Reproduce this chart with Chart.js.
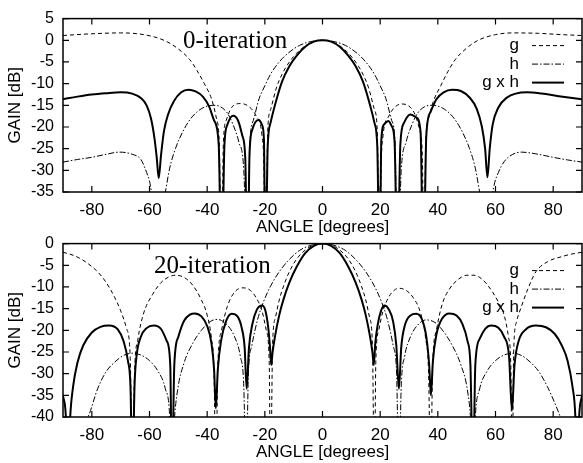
<!DOCTYPE html>
<html>
<head>
<meta charset="utf-8">
<script src="https://cdn.jsdelivr.net/npm/chart.js"></script>
<style>
  body { margin: 0; background: #fff; }
  #wrap { position: relative; width: 583px; height: 463px; }
  canvas { position: absolute; left: 0; }
</style>
</head>
<body>
<div id="wrap">
  <canvas id="topChart" width="583" height="238" style="top:0px"></canvas>
  <canvas id="bottomChart" width="583" height="238" style="top:225px"></canvas>
</div>
<script>
// ticks
const xTicks = [-80, -60, -40, -20, 0, 20, 40, 60, 80];
const topYTicks = [5, 0, -5, -10, -15, -20, -25, -30, -35];
const bottomYTicks = [0, -5, -10, -15, -20, -25, -30, -35, -40];

// 0-iteration
const topAngleG = [-90, -80, -70, -62, -55, -50, -46, -43.5, -41, -38.5, -36.8, -35.8, -35, -34.4, -33.4, -31.5, -28.5, -25.5, -23, -21, -20.3, -19.8, -19, -18, -16, -14, -12, -9, -6, -3, 0, 3, 6, 9, 12, 14, 16, 18, 19, 19.8, 20.3, 21, 23, 25.5, 27.5, 30, 32, 33.8, 34.6, 35.2, 35.8, 36.8, 38.5, 41, 43.5, 46, 50, 54, 60, 66, 75, 83, 90];
const topGainG = [1.1, 1.5, 1.7, 1.3, 0, -2, -4.5, -7, -10, -13.5, -18, -24, -55, -24, -18.5, -15.5, -14.6, -15.3, -17.5, -22, -30, -55, -21, -16, -11, -7.8, -5.5, -3, -1.3, -0.3, 0, -0.3, -1.3, -3, -5.5, -7.8, -11, -16, -21, -55, -30, -22, -17.5, -15.2, -14.7, -15.2, -17, -21, -26, -55, -24, -18, -14, -10.5, -7.2, -4.5, -1.8, 0, 1.3, 1.7, 1.6, 1.3, 1.1];

const topAngleH = [-90, -85, -80, -75, -70.5, -66, -63, -61, -60, -59.3, -58.3, -57, -55.7, -54.5, -53, -51, -48, -45, -41.5, -38, -35.5, -33, -31, -29, -27.3, -26, -25.2, -24, -22, -20, -18, -15, -12, -8, -4, 0, 4, 8, 12, 15, 18, 20, 22, 24, 25.2, 26, 27.3, 29, 31, 33, 35.5, 38, 41.5, 45, 48, 51, 53, 54.5, 55.7, 57, 58.3, 59.5, 61, 63, 66, 69, 74, 80, 85, 90];
const topGainH = [-28.1, -27.5, -27, -26.3, -25.8, -26.3, -27.5, -30.5, -32.5, -35, -39, -55, -39, -35, -29.5, -25, -20.5, -17.5, -15.6, -15, -15.3, -16.8, -19.5, -23.5, -30, -55, -24, -18.5, -13.5, -10.5, -7.8, -5, -3, -1.2, -0.3, 0, -0.3, -1.2, -3, -5, -7.8, -10.5, -13.5, -18.5, -24, -55, -30, -23.5, -19.5, -16.8, -15.3, -15, -15.6, -17.5, -20.5, -25, -29.5, -35, -39, -55, -39, -33.5, -30.5, -28, -26.3, -25.8, -26.2, -27, -27.6, -28.1];

const topAngleGH = [-90, -85, -80, -75, -70, -66, -63, -61, -59.5, -58.3, -57.5, -56.8, -56, -55, -53.5, -51.5, -49, -46.5, -44, -41.5, -39.3, -37.6, -36, -35, -34, -33, -31, -29.3, -27.8, -26.8, -26, -25.3, -24.3, -23.2, -22, -21, -20.3, -19.8, -19, -18, -16, -14, -11.5, -9, -6, -3, 0, 3, 6, 9, 11.5, 14, 16, 18, 19, 19.8, 20.4, 21.5, 22.8, 24, 25, 26, 27, 28.3, 30.5, 32.5, 34, 35, 36, 37.5, 39.5, 42, 45, 48, 51, 53.5, 55.3, 56.4, 57.2, 58, 59, 61, 64, 67, 71, 76, 82, 90];
const topGainGH = [-13.6, -13, -12.5, -12.2, -12, -12.3, -13.3, -15, -18, -22.5, -27, -31.8, -26.5, -21, -17, -14, -12, -11.4, -11.8, -13, -15.3, -18.5, -24, -55, -24, -19.5, -17.4, -18.5, -22, -27, -55, -26, -20.5, -18.8, -18.4, -19.5, -23, -55, -24.5, -19, -13.8, -9.5, -6, -3.6, -1.5, -0.3, 0, -0.3, -1.5, -3.6, -6, -9.5, -13.8, -19, -24.5, -55, -23, -19.3, -18.6, -19.8, -23.5, -55, -24, -19, -17.1, -17.8, -21, -55, -22, -16.5, -13.6, -12, -11.4, -11.7, -13.2, -15.8, -20, -25, -31.6, -25, -19.5, -15.5, -13.2, -12.3, -12, -12.3, -12.9, -13.6];

// 20-iteration
const bottomAngleG = [-90, -86, -82, -78, -75, -72, -70, -68, -66.7, -65.9, -65.2, -64, -62, -59, -56, -53, -51, -48, -45, -42, -40, -38.5, -37.6, -37, -36.3, -35, -33, -30.5, -27.5, -25, -23, -21, -19.5, -18.5, -18, -17.3, -16.3, -15, -13.5, -11.5, -9, -6, -3, 0, 3, 6, 9, 11.5, 13.5, 15, 16.3, 17.3, 18, 18.5, 19.5, 21, 23, 25, 26.5, 29, 31.5, 34, 35.8, 36.8, 37.5, 38.2, 39.5, 41.5, 44, 47, 50, 52.5, 55.5, 58.5, 61, 63, 64.5, 65.3, 65.8, 66.3, 67.3, 69, 71.2, 74, 78, 83, 86.5, 90];
const bottomGainG = [-2, -2.8, -4.3, -6.5, -9, -12.5, -15.5, -19.5, -26, -55, -30, -22, -16, -11.8, -9, -7.6, -7.3, -7.8, -9.6, -13, -16.5, -22, -30, -55, -28, -20, -14.5, -11.2, -10.2, -10.8, -12.5, -15.5, -20, -27, -55, -23, -17, -13, -9.8, -6.5, -3.6, -1.5, -0.3, 0, -0.3, -1.5, -3.6, -6.5, -9.8, -13, -17, -23, -55, -27, -20, -15.5, -12.3, -10.7, -10.3, -10.8, -12.5, -16, -22, -30, -55, -28, -20, -14, -10.5, -8.3, -7.3, -7.3, -8.3, -10.7, -13.5, -16.5, -21.5, -28, -55, -25, -18, -14.5, -10.5, -6.5, -4.2, -3, -2.4, -2];

const bottomAngleH = [-90, -88, -86, -83, -81, -78, -75, -72, -69, -66, -63, -60, -57, -54.5, -53, -52.3, -51.5, -50.3, -48, -45, -42, -39, -36.5, -33, -30.5, -28.5, -27.3, -26.5, -25.7, -24.5, -22.5, -20.5, -18, -15, -12, -8, -4, 0, 4, 8, 12, 15, 18, 20.5, 22.5, 24.5, 25.7, 26.5, 27.3, 28.5, 30.5, 33, 36, 39, 42, 45, 48, 50.3, 51.5, 52.2, 53, 54.5, 57, 60, 63, 66, 69, 72, 75, 78, 81, 83, 86, 88, 90];
const bottomGainH = [-50, -60, -48, -42, -39.5, -33.5, -29.5, -27.3, -25.8, -25.3, -25.7, -27, -29.5, -33.5, -40, -55, -42, -34, -27.5, -23, -20, -18, -17.5, -18.8, -21.5, -26, -33, -55, -30, -23.5, -17.5, -13.5, -9.8, -6.5, -4, -1.6, -0.4, 0, -0.4, -1.6, -4, -6.5, -9.8, -13.5, -17.5, -23.5, -30, -55, -33, -26, -21.5, -18.8, -17.6, -18.2, -20.3, -23.5, -28, -34, -42, -55, -40, -33.5, -29.5, -27, -25.7, -25.3, -25.8, -27.3, -29.5, -33, -37.5, -41, -48, -60, -50];

const bottomAngleGH = [-90, -89, -88.3, -87.5, -86.5, -85, -83, -80, -77, -74, -71, -69, -67.5, -66.6, -65.9, -65.2, -64.5, -63, -61, -58.5, -56, -54, -52.8, -52.2, -51.4, -50, -48, -46, -44.3, -42, -40, -38.5, -37.6, -37, -36.3, -35.2, -33.5, -31.5, -29.5, -28, -27, -26.3, -25.5, -24.3, -22.8, -21, -19.8, -18.8, -18.2, -17.8, -17.3, -16.5, -15, -13.5, -11.5, -9, -6, -3, 0, 3, 6, 9, 11.5, 13.5, 15, 16.5, 17.3, 17.8, 18.3, 19.2, 20.3, 21.5, 23, 24.5, 25.6, 26.5, 27.3, 28.5, 30.5, 32.5, 34.5, 36, 37, 37.6, 38.3, 39.5, 41.5, 44, 46.5, 48.5, 50.3, 51.3, 52.2, 53, 54.5, 56.5, 58.5, 61, 63, 64.7, 65.7, 66.6, 68, 70.5, 74, 77.5, 80.5, 83, 85, 86.7, 87.7, 88.3, 89, 90];
const bottomGainGH = [-35, -40, -55, -40, -33, -27.5, -23.5, -20.5, -19.2, -18.9, -19.8, -22.5, -27, -33, -55, -33, -26, -21.5, -19.5, -18.9, -19.7, -22.5, -28, -55, -28, -21.5, -17.8, -16.4, -16.1, -16.8, -19, -23, -29, -38, -29, -22.5, -18, -16.2, -16.8, -19.5, -24, -33.5, -24, -18.5, -15.3, -14.3, -15.5, -19.5, -24, -28, -25, -21.5, -16.5, -12.8, -9, -5.4, -2.2, -0.5, 0, -0.5, -2.2, -5.4, -9, -12.8, -16.5, -21.5, -25, -28, -23, -18.5, -15.5, -14.3, -15.2, -18, -23.5, -33.5, -24, -19, -16.6, -16.2, -17.5, -21.5, -28, -35, -27, -21, -17.3, -16.1, -16.6, -18.5, -22.5, -28, -55, -28, -22, -19.6, -18.9, -19.4, -21.5, -26, -38.5, -28, -22.5, -19.8, -18.9, -19.3, -20.8, -23.5, -27, -33, -40, -55, -40, -35];

const fontSans = '"Liberation Sans", Arial, sans-serif';

function pts(a, g) {
    return a.map((x, i) => ({ x: x, y: g[i] }));
}

// frame with inside ticks, legend and the iteration label
const framePlugin = {
    id: 'frame',
    afterDraw(chart, args, opts) {
        const ctx = chart.ctx;
        const a = chart.chartArea;
        const xs = chart.scales.x;
        const ys = chart.scales.y;
        ctx.save();
        ctx.strokeStyle = '#000';
        ctx.fillStyle = '#000';
        ctx.lineWidth = 1.5;
        ctx.strokeRect(a.left, a.top, a.right - a.left, a.bottom - a.top);

        ctx.lineWidth = 1.2;
        ctx.beginPath();
        xTicks.forEach(v => {
            const px = xs.getPixelForValue(v);
            ctx.moveTo(px, a.bottom); ctx.lineTo(px, a.bottom - 6);
            ctx.moveTo(px, a.top); ctx.lineTo(px, a.top + 6);
        });
        ys.ticks.forEach(t => {
            const py = ys.getPixelForValue(t.value);
            ctx.moveTo(a.left, py); ctx.lineTo(a.left + 6, py);
            ctx.moveTo(a.right, py); ctx.lineTo(a.right - 6, py);
        });
        ctx.stroke();

        ctx.font = '17px ' + fontSans;
        ctx.textAlign = 'right';
        ctx.textBaseline = 'middle';
        chart.data.datasets.forEach((ds, i) => {
            const y = a.top + 27 + i * 18.5;
            ctx.fillText(ds.label, a.right - 63, y);
            ctx.setLineDash(ds.borderDash || []);
            ctx.lineWidth = ds.borderWidth;
            ctx.beginPath();
            ctx.moveTo(a.right - 50, y);
            ctx.lineTo(a.right - 18, y);
            ctx.stroke();
        });
        ctx.setLineDash([]);

        ctx.font = '25px "Liberation Serif", "Times New Roman", serif';
        ctx.textAlign = 'left';
        ctx.textBaseline = 'alphabetic';
        ctx.fillText(opts.text, opts.x, a.top + 29);
        ctx.restore();
    }
};

function makeChart(id, title, titleX, g, h, gh, yMin, yMax, yTicks) {
    return new Chart(document.getElementById(id), {
        type: 'line',
        data: {
            datasets: [
                { label: 'g', data: g, borderColor: '#000', borderWidth: 1, borderDash: [4, 3] },
                { label: 'h', data: h, borderColor: '#000', borderWidth: 1, borderDash: [6, 2, 1.5, 2] },
                { label: 'g x h', data: gh, borderColor: '#000', borderWidth: 2 }
            ]
        },
        options: {
            responsive: false,
            animation: false,
            devicePixelRatio: 1,
            elements: {
                point: { radius: 0 },
                line: { cubicInterpolationMode: 'monotone', fill: false }
            },
            layout: { padding: { top: 16, right: 1, left: 0, bottom: 0 } },
            plugins: {
                legend: { display: false },
                tooltip: { enabled: false },
                frame: { text: title, x: titleX }
            },
            scales: {
                x: {
                    type: 'linear',
                    min: -90,
                    max: 90,
                    afterBuildTicks: s => { s.ticks = xTicks.map(v => ({ value: v })); },
                    afterFit: s => { s.height = 46; },
                    grid: { display: false, drawTicks: false },
                    border: { display: false },
                    ticks: { color: '#000', font: { family: fontSans, size: 17 }, padding: 8, maxRotation: 0, autoSkip: false },
                    title: { display: true, text: 'ANGLE [degrees]', color: '#000', font: { family: fontSans, size: 17 }, padding: 0 }
                },
                y: {
                    type: 'linear',
                    min: yMin,
                    max: yMax,
                    afterBuildTicks: s => { s.ticks = yTicks.map(v => ({ value: v })); },
                    afterFit: s => { s.width = 63; },
                    grid: { display: false, drawTicks: false },
                    border: { display: false },
                    ticks: { color: '#000', font: { family: fontSans, size: 16 }, padding: 9, autoSkip: false },
                    title: { display: true, text: 'GAIN [dB]', color: '#000', font: { family: fontSans, size: 17 }, padding: 5 }
                }
            }
        },
        plugins: [framePlugin]
    });
}

makeChart('topChart', '0-iteration', 183,
    pts(topAngleG, topGainG), pts(topAngleH, topGainH), pts(topAngleGH, topGainGH),
    -35, 5, topYTicks);

makeChart('bottomChart', '20-iteration', 154,
    pts(bottomAngleG, bottomGainG), pts(bottomAngleH, bottomGainH), pts(bottomAngleGH, bottomGainGH),
    -40, 0, bottomYTicks);
</script>
</body>
</html>
